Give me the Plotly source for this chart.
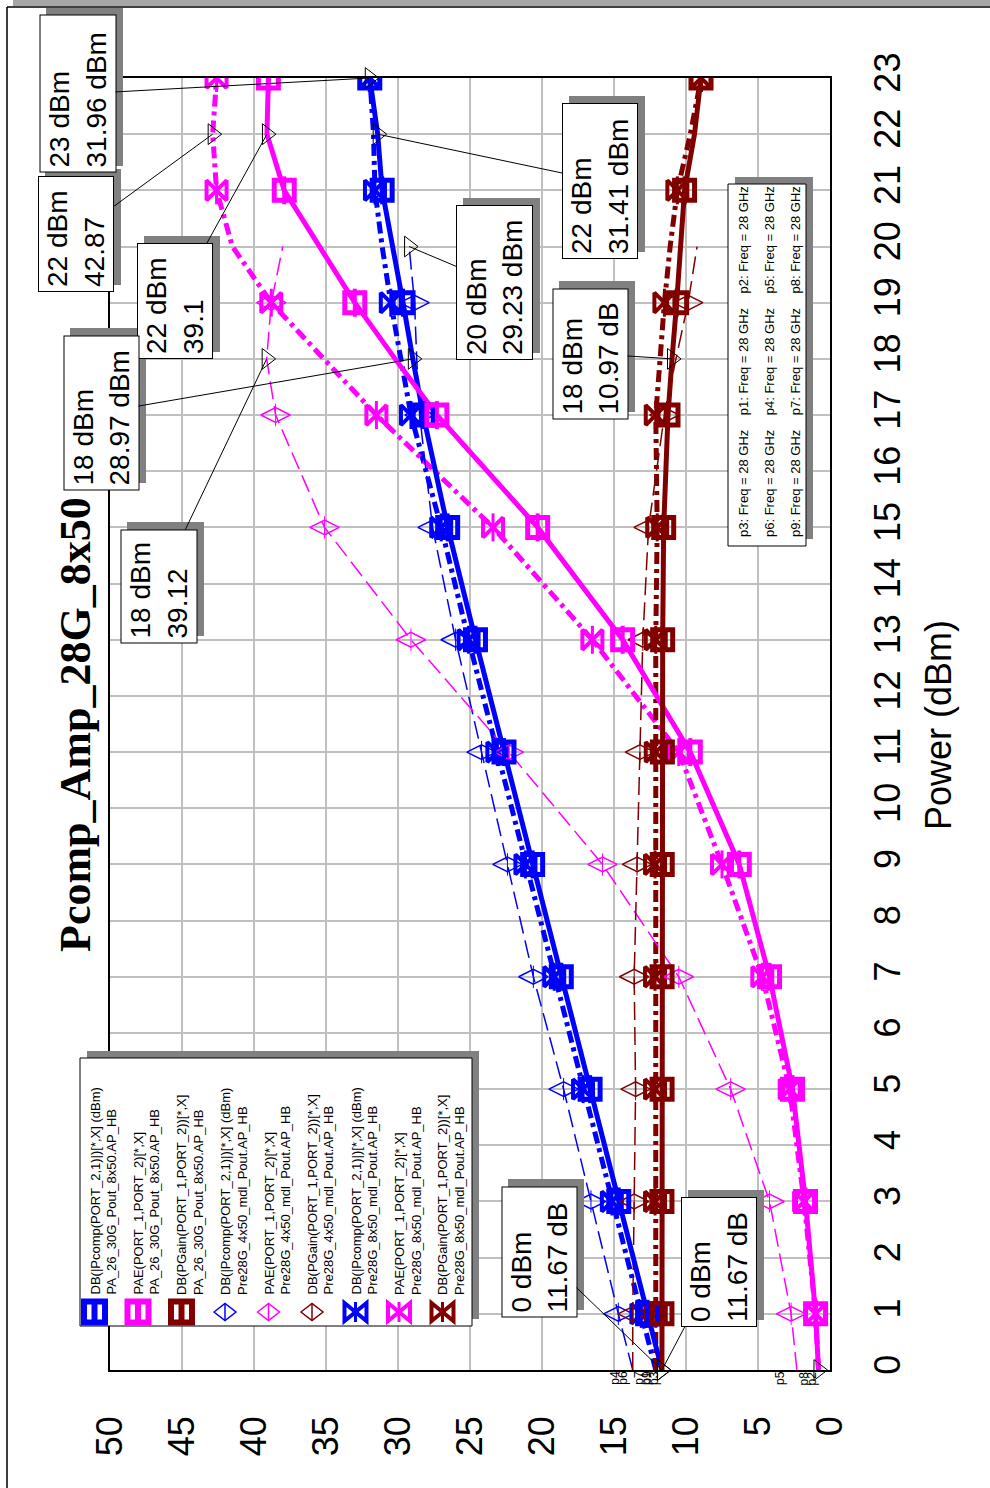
import plotly.graph_objects as go

# ---------------------------------------------------------------
# Data: input power sweep (dBm) and results for each design
# ---------------------------------------------------------------
# PA_26_30G_Pout_8x50.AP_HB
pin_a = [0, 1, 3, 5, 7, 9, 11, 13, 15, 17, 18, 19, 21, 22, 23]
pcomp_a = [11.67, 12.67, 14.67, 16.66, 18.66, 20.65, 22.64, 24.62, 26.55, 28.25, 28.97, 29.65, 31.1, 31.41, 31.96]
pae_a = [0.8, 1.0, 1.7, 2.6, 4.2, 6.3, 9.7, 14.4, 20.3, 27.3, 30.2, 33.0, 37.9, 39.1, 39.0]
gain_a = [11.67, 11.67, 11.67, 11.66, 11.66, 11.65, 11.64, 11.62, 11.55, 11.25, 10.97, 10.65, 10.1, 9.41, 8.96]

# Pre28G_4x50_mdl_Pout.AP_HB
pin_b = [0, 1, 3, 5, 7, 9, 11, 13, 15, 17, 18, 19, 20]
pcomp_b = [13.7, 14.7, 16.6, 18.5, 20.6, 22.4, 24.2, 26.0, 27.6, 28.5, 28.7, 28.85, 29.23]
pae_b = [2.3, 2.7, 4.2, 6.9, 10.5, 15.8, 22.3, 29.1, 35.1, 38.5, 39.12, 38.8, 38.0]
gain_b = [13.7, 13.7, 13.6, 13.5, 13.6, 13.4, 13.2, 13.0, 12.6, 11.5, 10.7, 9.85, 9.23]

# Pre28G_8x50_mdl_Pout.AP_HB
pin_c = [0, 1, 3, 5, 7, 9, 11, 13, 15, 17, 19, 20, 21, 22, 23]
pcomp_c = [12.1, 13.1, 15.15, 17.15, 19.15, 21.15, 23.1, 25.1, 27.0, 29.1, 30.5, 31.1, 31.6, 31.7, 31.95]
pae_c = [0.8, 1.0, 1.8, 2.8, 4.7, 7.5, 10.5, 16.5, 23.4, 31.5, 38.8, 41.5, 42.6, 42.87, 42.6]
gain_c = [12.1, 12.1, 12.15, 12.15, 12.15, 12.15, 12.1, 12.1, 12.0, 12.1, 11.5, 11.1, 10.6, 9.7, 8.95]

value_ticks = [0, 5, 10, 15, 20, 25, 30, 35, 40, 45, 50]
power_ticks = list(range(0, 24))

legend_names = [
    ("DB(|Pcomp(PORT_2,1)|)[*,X] (dBm)", "PA_26_30G_Pout_8x50.AP_HB"),
    ("PAE(PORT_1,PORT_2)[*,X]", "PA_26_30G_Pout_8x50.AP_HB"),
    ("DB(PGain(PORT_1,PORT_2))[*,X]", "PA_26_30G_Pout_8x50.AP_HB"),
    ("DB(|Pcomp(PORT_2,1)|)[*,X] (dBm)", "Pre28G_4x50_mdl_Pout.AP_HB"),
    ("PAE(PORT_1,PORT_2)[*,X]", "Pre28G_4x50_mdl_Pout.AP_HB"),
    ("DB(PGain(PORT_1,PORT_2))[*,X]", "Pre28G_4x50_mdl_Pout.AP_HB"),
    ("DB(|Pcomp(PORT_2,1)|)[*,X] (dBm)", "Pre28G_8x50_mdl_Pout.AP_HB"),
    ("PAE(PORT_1,PORT_2)[*,X]", "Pre28G_8x50_mdl_Pout.AP_HB"),
    ("DB(PGain(PORT_1,PORT_2))[*,X]", "Pre28G_8x50_mdl_Pout.AP_HB"),
]

# ---------------------------------------------------------------
# Page geometry (the whole graph is laid out turned on its side)
# ---------------------------------------------------------------
W, H = 990, 1488
PL, PR, PT, PB = 110, 830, 78, 1370
VMAX, PMAX = 50, 23

BLUE, MAG, RED = "#0000FF", "#FF00FF", "#800000"
SANS = "Liberation Sans"


def xp(px):
    return (px - PL) / (PR - PL)


def yp(py):
    return (PB - py) / (PB - PT)


def val_px(v):
    return PR - v / VMAX * (PR - PL)


def pin_py(p):
    return PB - p / PMAX * (PB - PT)


fig = go.Figure()

STYLE = {
    "A": dict(line=dict(width=5), sym="square-open", size=20, lw=5, bar=20, barw=4),
    "B": dict(line=dict(width=1.5, dash="18px,7px"), sym="diamond-wide-open", size=21, lw=1.5, bar=16, barw=1),
    "C": dict(line=dict(width=5, dash="12px,5px,4px,5px"), sym="bowtie-open", size=20, lw=4, bar=20, barw=3),
}

series = [
    ("C", pin_c, pcomp_c, BLUE), ("C", pin_c, pae_c, MAG), ("C", pin_c, gain_c, RED),
    ("B", pin_b, pcomp_b, BLUE), ("B", pin_b, pae_b, MAG), ("B", pin_b, gain_b, RED),
    ("A", pin_a, pcomp_a, BLUE), ("A", pin_a, pae_a, MAG), ("A", pin_a, gain_a, RED),
]

for kind, pins, vals, col in series:
    st = STYLE[kind]
    fig.add_trace(go.Scatter(
        x=vals, y=pins, mode="lines",
        line=dict(color=col, **st["line"]),
        hoverinfo="skip", showlegend=False))

for kind, pins, vals, col in series:
    st = STYLE[kind]
    mx = [v for p, v in zip(pins, vals) if p % 2 == 1]
    my = [p for p in pins if p % 2 == 1]
    fig.add_trace(go.Scatter(
        x=mx, y=my, mode="markers",
        marker=dict(symbol=st["sym"], size=st["size"], color=col,
                    line=dict(color=col, width=st["lw"])),
        hoverinfo="skip", showlegend=False))
    fig.add_trace(go.Scatter(
        x=mx, y=my, mode="markers",
        marker=dict(symbol="line-ns-open", size=st["bar"], color=col,
                    line=dict(color=col, width=st["barw"])),
        hoverinfo="skip", showlegend=False))


def at(pins, vals, p):
    return vals[pins.index(p)]


# Marker read-outs: (series, input power, unit, box left/top/right/bottom in px)
readouts = [
    (pin_a, pcomp_a, 23, "dBm", (39, 15, 116, 173)),
    (pin_c, pae_c, 22, "", (38, 176, 114, 292)),
    (pin_a, pae_a, 22, "", (137, 243, 213, 359)),
    (pin_a, pcomp_a, 18, "dBm", (63, 335, 139, 490)),
    (pin_b, pae_b, 18, "", (120, 529, 197, 643)),
    (pin_b, pcomp_b, 20, "dBm", (456, 205, 533, 360)),
    (pin_a, pcomp_a, 22, "dBm", (562, 103, 638, 259)),
    (pin_a, gain_a, 18, "dB", (552, 288, 628, 419)),
    (pin_a, gain_a, 0, "dB", (501, 1186, 577, 1317)),
    (pin_a, gain_a, 0, "dB", (681, 1197, 757, 1327)),
]

shapes = []
annotations = []

# outer frame of the page
shapes.append(dict(type="rect", xref="paper", yref="paper", x0=xp(13), x1=xp(990),
                   y0=yp(0), y1=yp(6), fillcolor="#A6A6A6", line=dict(width=0), layer="above"))
shapes.append(dict(type="line", xref="paper", yref="paper", x0=xp(7), x1=xp(990),
                   y0=yp(7), y1=yp(7), line=dict(color="black", width=1.5), layer="above"))
shapes.append(dict(type="line", xref="paper", yref="paper", x0=xp(7), x1=xp(7),
                   y0=yp(7), y1=yp(1488), line=dict(color="black", width=1.5), layer="above"))

tri_x, tri_y = [], []
for pins, vals, p, unit, (l, t, r, b) in readouts:
    v = at(pins, vals, p)
    tri_x.append(v)
    tri_y.append(p)
    shapes.append(dict(type="rect", xref="paper", yref="paper",
                       x0=xp(l + 7), x1=xp(r + 7), y0=yp(b - 7), y1=yp(t - 7),
                       fillcolor="#808080", line=dict(width=0), layer="above"))
    cx, cy = (l + r) / 2, (t + b) / 2
    txt = f"{p:g} dBm<br>{v:g}" + (f" {unit}" if unit else "")
    annotations.append(dict(
        x=v, y=p, xref="x", yref="y",
        ax=cx - val_px(v), ay=cy - pin_py(p), axref="pixel", ayref="pixel",
        text=txt, textangle=-90, showarrow=True, arrowhead=0, arrowwidth=1,
        arrowcolor="black", standoff=0, startstandoff=0,
        bgcolor="white", bordercolor="black", borderwidth=1, borderpad=4,
        width=(b - t) - 10, height=(r - l) - 10, align="left",
        font=dict(family=SANS, size=28, color="black")))

# start-point markers for the PAE traces
tri_x.append(pae_a[0])
tri_y.append(pin_a[0])
fig.add_trace(go.Scatter(
    x=tri_x, y=tri_y, mode="markers", cliponaxis=False,
    marker=dict(symbol="triangle-right-open", size=18, color="black",
                line=dict(color="black", width=1)),
    hoverinfo="skip", showlegend=False))

# marker names at the start of the sweep
start_tags = [
    ("p4", pcomp_b[0]), ("p6", gain_b[0]), ("p7", pcomp_c[0]), ("p9", gain_c[0]),
    ("p1", pcomp_a[0]), ("p3", gain_a[0]),
    ("p5", pae_b[0]), ("p8", pae_c[0]), ("p2", pae_a[0]),
]
shift = {"p4": -18, "p6": -10, "p7": -17, "p9": -9, "p1": -16, "p3": -8,
         "p5": -17, "p8": -14, "p2": -6}
for name, v in start_tags:
    annotations.append(dict(x=v, y=0, xref="x", yref="y", text=name, showarrow=False,
                            textangle=-90, xshift=shift[name], yshift=-8,
                            font=dict(family=SANS, size=12, color="black")))

# parameter box
shapes.append(dict(type="rect", xref="paper", yref="paper", x0=xp(735), x1=xp(813),
                   y0=yp(539), y1=yp(177), fillcolor="#808080", line=dict(width=0), layer="above"))
shapes.append(dict(type="rect", xref="paper", yref="paper", x0=xp(728), x1=xp(806),
                   y0=yp(546), y1=yp(184), fillcolor="white",
                   line=dict(color="black", width=1), layer="above"))
gap = "\u00a0" * 4
for col_x, names in [(743, ("p3", "p1", "p2")), (769, ("p6", "p4", "p5")), (795, ("p9", "p7", "p8"))]:
    annotations.append(dict(
        x=xp(col_x), y=yp(362), xref="paper", yref="paper", showarrow=False,
        xanchor="center", yanchor="middle",
        text=gap.join(f"{n}: Freq = 28 GHz" for n in names), textangle=-90,
        font=dict(family=SANS, size=13, color="black")))

# legend box
shapes.append(dict(type="rect", xref="paper", yref="paper", x0=xp(87), x1=xp(479),
                   y0=yp(1319), y1=yp(1051), fillcolor="#808080", line=dict(width=0), layer="above"))
shapes.append(dict(type="rect", xref="paper", yref="paper", x0=xp(80), x1=xp(472),
                   y0=yp(1326), y1=yp(1058), fillcolor="white",
                   line=dict(color="black", width=1), layer="above"))


def seg(x0, y0, x1, y1, col, w):
    return dict(type="line", xref="paper", yref="paper", x0=xp(x0), x1=xp(x1),
                y0=yp(y0), y1=yp(y1), line=dict(color=col, width=w), layer="above")


def poly(pts, col, w):
    path = "M " + " L ".join(f"{xp(a):.5f},{yp(b):.5f}" for a, b in pts) + " Z"
    return dict(type="path", xref="paper", yref="paper", path=path,
                line=dict(color=col, width=w), fillcolor="rgba(0,0,0,0)", layer="above")


legend_style = ["A", "A", "A", "B", "B", "B", "C", "C", "C"]
legend_cols = [BLUE, MAG, RED] * 3
for i, ((l1, l2), kind, col) in enumerate(zip(legend_names, legend_style, legend_cols)):
    sx = 94.5 + i * 43.5
    sy = 1312
    if kind == "A":
        shapes.append(poly([(sx - 10.5, sy - 10.5), (sx + 10.5, sy - 10.5),
                            (sx + 10.5, sy + 10.5), (sx - 10.5, sy + 10.5)], col, 6))
        shapes.append(seg(sx, sy - 13, sx, sy + 13, col, 6))
    elif kind == "B":
        shapes.append(poly([(sx - 11, sy), (sx, sy - 8.5), (sx + 11, sy), (sx, sy + 8.5)], col, 1.5))
        shapes.append(seg(sx, sy - 8.5, sx, sy + 8.5, col, 1.5))
    else:
        shapes.append(poly([(sx - 11, sy - 9), (sx, sy), (sx - 11, sy + 9)], col, 4))
        shapes.append(poly([(sx + 11, sy - 9), (sx, sy), (sx + 11, sy + 9)], col, 4))
        shapes.append(seg(sx, sy - 10, sx, sy + 10, col, 3))
    annotations.append(dict(
        x=xp(sx + 8.5), y=yp(1297), xref="paper", yref="paper", showarrow=False,
        yanchor="bottom", xanchor="center", align="left", textangle=-90,
        text=f"{l1}<br>{l2}", font=dict(family=SANS, size=13, color="black")))

# titles
annotations.append(dict(x=xp(75), y=yp(725), xref="paper", yref="paper", showarrow=False,
                        xanchor="center", yanchor="middle",
                        text="<b>Pcomp_Amp_28G_8x50</b>", textangle=-90,
                        font=dict(family="Liberation Serif", size=44, color="black")))
annotations.append(dict(x=xp(938), y=yp(725), xref="paper", yref="paper", showarrow=False,
                        xanchor="center", yanchor="middle",
                        text="Power (dBm)", textangle=-90,
                        font=dict(family=SANS, size=36, color="black")))

fig.update_layout(
    width=W, height=H,
    margin=dict(l=PL, r=W - PR, t=PT, b=H - PB, pad=0),
    paper_bgcolor="white", plot_bgcolor="white",
    showlegend=False,
    shapes=shapes, annotations=annotations,
    xaxis=dict(range=[VMAX, 0], tickvals=value_ticks, tickangle=-90,
               tickfont=dict(family=SANS, size=36, color="black"),
               showgrid=True, gridcolor="#C0C0C0", gridwidth=2,
               showline=True, linecolor="black", linewidth=1.5, mirror=True,
               zeroline=False, ticks="", ticklabelstandoff=30),
    yaxis=dict(range=[0, PMAX], tickvals=power_ticks, tickangle=-90, side="right",
               tickfont=dict(family=SANS, size=36, color="black"),
               showgrid=True, gridcolor="#C0C0C0", gridwidth=2,
               showline=True, linecolor="black", linewidth=1.5, mirror=True,
               zeroline=False, ticks="", ticklabelstandoff=25),
)

fig.write_html("out.html")
